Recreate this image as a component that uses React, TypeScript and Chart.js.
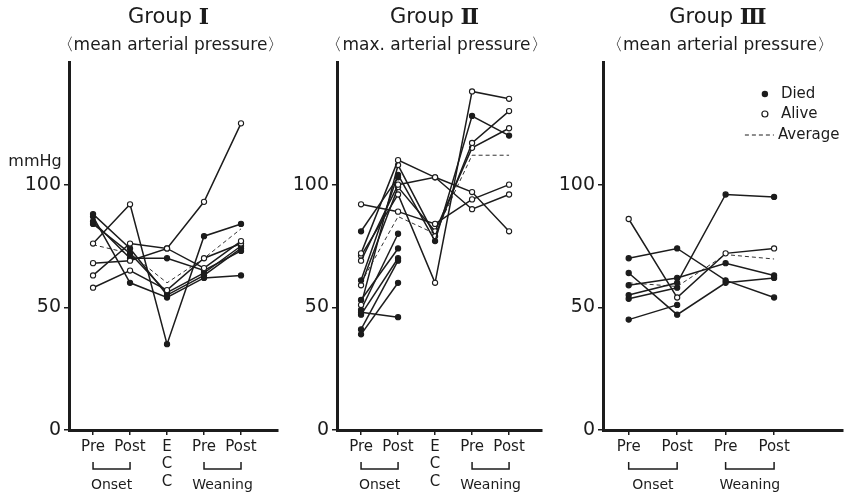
import React, { useEffect, useRef } from "react";
import { Chart, registerables } from "chart.js";
Chart.register(...registerables);

const SANS = "'DejaVu Sans', sans-serif";
const SERIF = "'DejaVu Serif', serif";

// ---- tick labels ----
const yTickValues = [0, 50, 100];
const labelsECC = ["Pre", "Post", ["E", "C", "C"], "Pre", "Post"];
const labelsNoECC = ["Pre", "Post", "Pre", "Post"];

// ---- Group I (mean arterial pressure) : Pre, Post (onset), ECC, Pre, Post (weaning)
const g1Patient1 = [76, 92, 35, 79, 84];
const g1Patient2 = [63, 76, 74, 93, 125];
const g1Patient3 = [68, 69, 74, 66, 77];
const g1Patient4 = [58, 65, 57, 70, 76];
const g1Patient5 = [88, 74, 55, 63, 74];
const g1Patient6 = [87, 60, 54, 62, 63];
const g1Patient7 = [85, 70, 70, 65, 73];
const g1Patient8 = [84, 72, 56, 64, 75];
const g1Average = [75.5, 72, 60, 70, 82];
const g1Died = [[false, false, true, true, true], false, false, false, true, true, true, true];

// ---- Group II (max. arterial pressure)
const g2Patient1 = [72, 110, 103, 97, 81];
const g2Patient2 = [69, 100, 103, 90, 96];
const g2Patient3 = [71, 96, 60, 138, 135];
const g2Patient4 = [61, 104, 77, 128, 120];
const g2Patient5 = [51, 108, 79, 117, 130];
const g2Patient6 = [59, 99, 81, 115, 123];
const g2Patient7 = [92, 89, 84, 94, 100];
const g2Patient8 = [81, 103];
const g2Patient9 = [48, 46];
const g2Patient10 = [39, 60];
const g2Patient11 = [41, 69];
const g2Patient12 = [53, 74];
const g2Patient13 = [47, 70];
const g2Patient14 = [49, 80];
const g2Average = [60, 87, 80, 112, 112];
const g2Died = [false, false, false, true, false, false, false, true, true, true, true, true, true, true];

// ---- Group III (mean arterial pressure) : Pre, Post (onset), Pre, Post (weaning)
const g3Patient1 = [86, 54, 72, 74];
const g3Patient2 = [70, 74, 61, 54];
const g3Patient3 = [64, 47, 60, 62];
const g3Patient4 = [45, 51];
const g3Patient5 = [59, 62, 68, 63];
const g3Patient6 = [55, 60, 96, 95];
const g3Patient7 = [53.5, 58];
const g3Average = [60, 58.5, 71.5, 69.7];
const g3Died = [false, true, true, true, true, true, true];

type Group = { a: number; b: number; text: string };
type Panel = {
  left: number;
  width: number;
  yWidth: number;
  padRight: number;
  xMin: number;
  xMax: number;
  labels: (string | string[])[];
  series: number[][];
  died: (boolean | boolean[])[];
  average: number[];
  titleWord: string;
  numeral: string;
  subtitle: string;
  groups: Group[];
  mmHg?: boolean;
  legend?: boolean;
};

const panels: Panel[] = [
  {
    left: 0, width: 300, yWidth: 69, padRight: 22, xMin: -0.65, xMax: 5.0,
    labels: labelsECC,
    series: [g1Patient1, g1Patient2, g1Patient3, g1Patient4, g1Patient5, g1Patient6, g1Patient7, g1Patient8],
    died: g1Died, average: g1Average,
    titleWord: "Group", numeral: "Ⅰ", subtitle: "〈mean arterial pressure〉",
    groups: [{ a: 0, b: 1, text: "Onset" }, { a: 3, b: 4, text: "Weaning" }],
    mmHg: true,
  },
  {
    left: 270, width: 310, yWidth: 67, padRight: 38, xMin: -0.65, xMax: 4.89,
    labels: labelsECC,
    series: [g2Patient1, g2Patient2, g2Patient3, g2Patient4, g2Patient5, g2Patient6, g2Patient7,
      g2Patient8, g2Patient9, g2Patient10, g2Patient11, g2Patient12, g2Patient13, g2Patient14],
    died: g2Died, average: g2Average,
    titleWord: "Group", numeral: "Ⅱ", subtitle: "〈max. arterial pressure〉",
    groups: [{ a: 0, b: 1, text: "Onset" }, { a: 3, b: 4, text: "Weaning" }],
  },
  {
    left: 560, width: 288, yWidth: 43, padRight: 0, xMin: -0.53, xMax: 4.42,
    labels: labelsNoECC,
    series: [g3Patient1, g3Patient2, g3Patient3, g3Patient4, g3Patient5, g3Patient6, g3Patient7],
    died: g3Died, average: g3Average,
    titleWord: "Group", numeral: "Ⅲ", subtitle: "〈mean arterial pressure〉",
    groups: [{ a: 0, b: 1, text: "Onset" }, { a: 2, b: 3, text: "Weaning" }],
    legend: true,
  },
];

const INK = "#1c1c1c";

function PanelChart({ p }: { p: Panel }) {
  const ref = useRef<HTMLCanvasElement | null>(null);
  useEffect(() => {
    const canvas = ref.current;
    if (!canvas) return;
    const datasets: any[] = p.series.map((vals, i) => {
      const d = p.died[i];
      const fills = vals.map((_, j) => {
        const isDied = Array.isArray(d) ? d[j] : d;
        return isDied ? INK : "#ffffff";
      });
      return {
        data: vals.map((v, j) => ({ x: j, y: v })),
        borderColor: INK,
        borderWidth: 1.5,
        pointRadius: 2.6,
        pointBorderWidth: 1.1,
        pointBorderColor: INK,
        pointBackgroundColor: fills,
        tension: 0,
        order: 1,
      };
    });
    datasets.push({
      data: p.average.map((v, j) => ({ x: j, y: v })),
      borderColor: "#333",
      borderWidth: 1,
      borderDash: [4, 3],
      pointRadius: 0,
      tension: 0,
      order: 2,
    });

    const decor = {
      id: "decor",
      afterDraw(chart: any) {
        const ctx = chart.ctx as CanvasRenderingContext2D;
        const ca = chart.chartArea;
        const xs = chart.scales.x;
        ctx.save();
        ctx.fillStyle = INK;
        ctx.strokeStyle = INK;
        ctx.textBaseline = "middle";
        // title
        const cx = (ca.left + ca.right) / 2 - 5;
        ctx.font = `21px ${SANS}`;
        const w1 = ctx.measureText(p.titleWord + " ").width;
        ctx.font = `bold 22px ${SERIF}`;
        const w2 = ctx.measureText(p.numeral).width;
        const x0 = cx - (w1 + w2) / 2;
        ctx.textAlign = "left";
        ctx.font = `21px ${SANS}`;
        ctx.fillText(p.titleWord + " ", x0, 18);
        ctx.font = `bold 22px ${SERIF}`;
        ctx.fillText(p.numeral, x0 + w1, 18);
        // subtitle
        ctx.textAlign = "center";
        ctx.font = `17px ${SANS}`;
        ctx.fillText(p.subtitle, cx + 2, 46);
        // brackets + group names
        ctx.lineWidth = 1.5;
        ctx.font = `14px ${SANS}`;
        for (const g of p.groups) {
          const xa = xs.getPixelForValue(g.a);
          const xb = xs.getPixelForValue(g.b);
          ctx.beginPath();
          ctx.moveTo(xa, 462);
          ctx.lineTo(xa, 469);
          ctx.lineTo(xb, 469);
          ctx.lineTo(xb, 462);
          ctx.stroke();
          ctx.fillText(g.text, (xa + xb) / 2, 485);
        }
        if (p.mmHg) {
          ctx.font = `16px ${SANS}`;
          ctx.fillText("mmHg", ca.left - 34, 162);
        }
        if (p.legend) {
          const mx = ca.right - 78;
          const tx = ca.right - 63;
          ctx.font = `15px ${SANS}`;
          ctx.textAlign = "left";
          ctx.beginPath();
          ctx.arc(mx, 94, 3.2, 0, Math.PI * 2);
          ctx.fill();
          ctx.fillText("Died", tx + 1, 94);
          ctx.beginPath();
          ctx.lineWidth = 1.2;
          ctx.arc(mx, 114, 3, 0, Math.PI * 2);
          ctx.stroke();
          ctx.fillText("Alive", tx + 1, 114);
          ctx.beginPath();
          ctx.lineWidth = 1;
          ctx.setLineDash([4, 3]);
          ctx.moveTo(ca.right - 98, 135);
          ctx.lineTo(tx - 6, 135);
          ctx.stroke();
          ctx.setLineDash([]);
          ctx.fillText("Average", tx - 2, 135);
        }
        ctx.restore();
      },
    };

    const chart = new Chart(canvas, {
      type: "line",
      data: { datasets },
      options: {
        responsive: false,
        animation: false,
        events: [],
        layout: { padding: { top: 62, left: 0, right: p.padRight, bottom: 0 } },
        plugins: { legend: { display: false }, tooltip: { enabled: false }, title: { display: false } },
        scales: {
          x: {
            type: "linear",
            min: p.xMin,
            max: p.xMax,
            afterBuildTicks: (s: any) => {
              s.ticks = p.labels.map((_, i) => ({ value: i }));
            },
            afterFit: (s: any) => {
              s.height = 65;
            },
            border: { display: true, color: INK, width: 3 },
            grid: { drawOnChartArea: false, drawTicks: true, tickLength: 5, color: INK, lineWidth: 1.5 },
            ticks: {
              autoSkip: false,
              maxRotation: 0,
              minRotation: 0,
              padding: 3,
              color: INK,
              font: { family: SANS, size: 15, lineHeight: 1.17 },
              callback: (v: any) => p.labels[v as number] ?? "",
            },
          },
          y: {
            type: "linear",
            min: 0,
            max: 150,
            afterBuildTicks: (s: any) => {
              s.ticks = yTickValues.map((v) => ({ value: v }));
            },
            afterFit: (s: any) => {
              s.width = p.yWidth;
            },
            border: { display: true, color: INK, width: 3 },
            grid: { drawOnChartArea: false, drawTicks: true, tickLength: 5, color: INK, lineWidth: 1.5 },
            ticks: {
              padding: 3,
              color: INK,
              font: { family: SANS, size: 19 },
            },
          },
        },
      },
      plugins: [decor],
    } as any);
    return () => chart.destroy();
  }, [p]);
  return (
    <canvas
      ref={ref}
      width={p.width}
      height={495}
      style={{ position: "absolute", left: p.left, top: 0, width: p.width, height: 495, display: "block" }}
    />
  );
}

export default function App() {
  return (
    <div style={{ position: "absolute", left: 0, top: 0, width: 848, height: 495, background: "#fff", overflow: "hidden" }}>
      {panels.map((p, i) => (
        <PanelChart key={i} p={p} />
      ))}
    </div>
  );
}
